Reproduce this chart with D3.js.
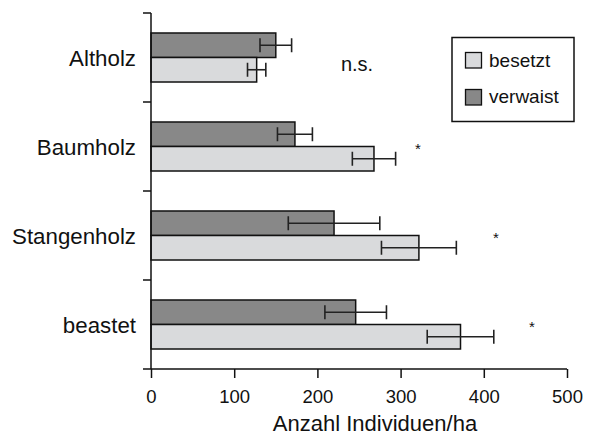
<!DOCTYPE html>
<html><head><meta charset="utf-8">
<script src="https://cdn.jsdelivr.net/npm/d3@7"></script>
<style>html,body{margin:0;padding:0;background:#fff;} text{font-family:"Liberation Sans",Arial,sans-serif;fill:#111;}</style>
</head><body>
<svg id="c" width="595" height="440"></svg>
<script>
const categories = ["Altholz","Baumholz","Stangenholz","beastet"];
const series = ["verwaist","besetzt"];
const verwaist = [150, 173, 220, 246];
const verwaistErr = [19, 21, 55, 37];
const besetzt = [127, 268, 322, 372];
const besetztErr = [11, 26, 45, 40];
const signif = ["n.s.", "*", "*", "*"];
const xTicks = [0, 100, 200, 300, 400, 500];
const legendOrder = ["besetzt","verwaist"];
const colors = {verwaist:"#888888", besetzt:"#d9dadc"};

const svg = d3.select("#c");
const x = d3.scaleLinear().domain([0,500]).range([151,567]);
const y = d3.scaleBand().domain(categories).range([13,369]).padding(0);
const ys = d3.scaleBand().domain(series).range([0,y.bandwidth()]).paddingInner(0).paddingOuter(0.816);

const data = [];
categories.forEach((c,i)=>{
  data.push({cat:c, s:"verwaist", v:verwaist[i], e:verwaistErr[i]});
  data.push({cat:c, s:"besetzt", v:besetzt[i], e:besetztErr[i]});
});

// bars
svg.append("g").selectAll("rect").data(data).join("rect")
  .attr("x", x(0)).attr("y", d=>y(d.cat)+ys(d.s))
  .attr("width", d=>x(d.v)-x(0)).attr("height", ys.bandwidth())
  .attr("fill", d=>colors[d.s]).attr("stroke","#111").attr("stroke-width",1.5);

// error bars
const eb = svg.append("g").attr("stroke","#222").attr("stroke-width",1.6);
data.forEach(d=>{
  const cy = y(d.cat)+ys(d.s)+ys.bandwidth()/2;
  eb.append("line").attr("x1",x(d.v-d.e)).attr("x2",x(d.v+d.e)).attr("y1",cy).attr("y2",cy);
  [d.v-d.e, d.v+d.e].forEach(v=>{
    eb.append("line").attr("x1",x(v)).attr("x2",x(v)).attr("y1",cy-7).attr("y2",cy+7);
  });
});

// x axis
const xa = svg.append("g").attr("transform","translate(0,369)")
  .call(d3.axisBottom(x).tickValues(xTicks).tickSize(9).tickPadding(12).tickFormat(d3.format("d")));
xa.select(".domain").remove();
xa.selectAll(".tick line").attr("stroke","#111").attr("stroke-width",1.5);
xa.selectAll(".tick text").attr("font-size","18.5px").attr("fill","#111").style("font-family","'Liberation Sans',Arial,sans-serif");
svg.append("line").attr("x1",143).attr("x2",x(500)).attr("y1",369).attr("y2",369).attr("stroke","#111").attr("stroke-width",1.5);

// y axis
svg.append("line").attr("x1",151).attr("x2",151).attr("y1",13).attr("y2",369).attr("stroke","#111").attr("stroke-width",1.5);
const yTickPos = categories.map(c=>y(c));
svg.append("g").selectAll("line").data(yTickPos).join("line")
  .attr("x1",143).attr("x2",151).attr("y1",d=>d).attr("y2",d=>d)
  .attr("stroke","#111").attr("stroke-width",1.5);
svg.append("g").selectAll("text").data(categories).join("text")
  .attr("x",136).attr("y",d=>y(d)+y.bandwidth()/2+8)
  .attr("text-anchor","end").attr("font-size","22.3px").text(d=>d);

// axis title
svg.append("text").attr("x",375).attr("y",431).attr("text-anchor","middle").attr("font-size","22px").text("Anzahl Individuen/ha");

// significance labels
const sigX = [357, 418, 496, 532];
svg.append("g").selectAll("text").data(signif).join("text")
  .attr("x",(d,i)=>sigX[i])
  .attr("y",(d,i)=> i===0 ? y(categories[i])+y.bandwidth()/2+13 : y(categories[i])+ys("besetzt")+7)
  .attr("text-anchor","middle")
  .attr("font-size",(d,i)=> i===0 ? "20px" : "15px")
  .text(d=>d);

// legend
const lg = svg.append("g");
lg.append("rect").attr("x",452).attr("y",37.5).attr("width",122).attr("height",84)
  .attr("fill","#fff").attr("stroke","#111").attr("stroke-width",1.5);
legendOrder.forEach((s,i)=>{
  lg.append("rect").attr("x",465.5).attr("y",52.5+i*37).attr("width",16).attr("height",15.5)
    .attr("fill",colors[s]).attr("stroke","#111").attr("stroke-width",1.3);
  lg.append("text").attr("x",489).attr("y",67+i*36).attr("font-size","19px").text(s);
});
</script>
</body></html>
